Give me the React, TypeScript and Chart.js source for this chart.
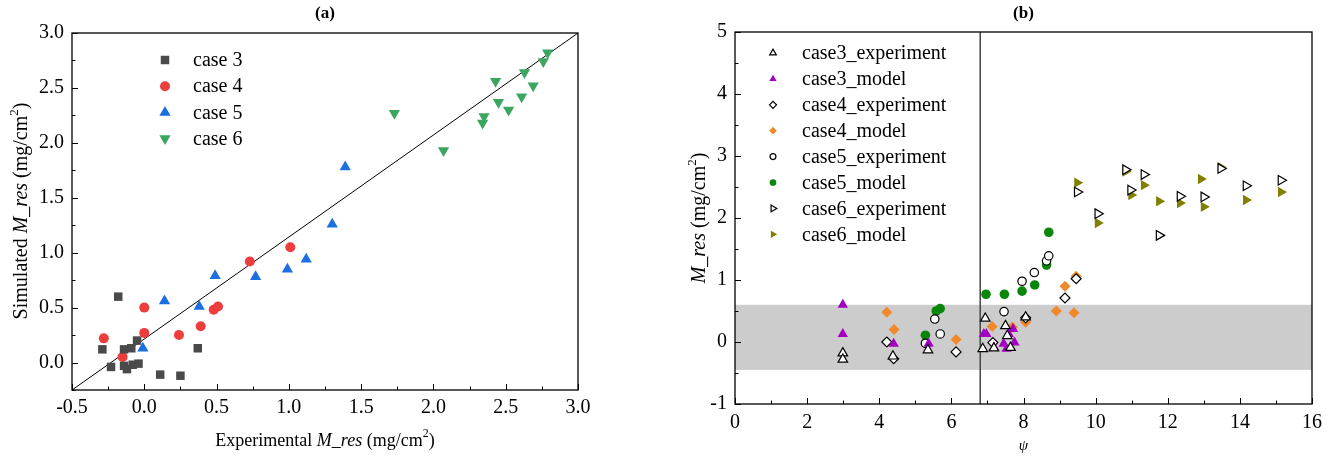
import React, { useEffect, useRef } from "react";
import { Chart, registerables } from "chart.js";
import { drawPoint } from "chart.js/helpers";
Chart.register(...registerables);

const SERIF = '"Liberation Serif", "Times New Roman", serif';

// ---------- (a) data ----------
const A_CASE3_X = [-0.18, -0.29, -0.23, -0.14, -0.09, -0.05, -0.14, -0.12, -0.08, -0.04, 0.11, 0.25, 0.37];
const A_CASE3_Y = [0.6, 0.12, -0.04, 0.12, 0.13, 0.2, -0.03, -0.06, -0.02, -0.01, -0.11, -0.12, 0.13];
const A_CASE4_X = [-0.28, -0.15, 0.0, 0.0, 0.24, 0.39, 0.48, 0.51, 0.73, 1.01];
const A_CASE4_Y = [0.22, 0.05, 0.5, 0.27, 0.25, 0.33, 0.48, 0.51, 0.92, 1.05];
const A_CASE5_X = [-0.01, 0.14, 0.38, 0.49, 0.77, 0.99, 1.12, 1.3, 1.39];
const A_CASE5_Y = [0.13, 0.56, 0.51, 0.79, 0.78, 0.85, 0.94, 1.26, 1.78];
const A_CASE6_X = [1.73, 2.07, 2.34, 2.35, 2.43, 2.45, 2.52, 2.61, 2.63, 2.69, 2.76, 2.79];
const A_CASE6_Y = [2.27, 1.93, 2.18, 2.24, 2.56, 2.37, 2.3, 2.42, 2.64, 2.52, 2.74, 2.82];
const A_DIAG_X = [-0.5, 3.0];
const A_DIAG_Y = [-0.25, 3.0];

// ---------- (b) data ----------
const B_C3E_X = [2.99, 2.99, 4.38, 5.35, 6.87, 6.94, 7.18, 7.5, 7.55, 7.64, 8.06];
const B_C3E_Y = [-0.18, -0.28, -0.23, -0.13, -0.11, 0.38, -0.1, 0.26, 0.1, -0.09, 0.4];
const B_C3M_X = [2.99, 2.99, 4.4, 5.37, 6.9, 6.97, 7.18, 7.45, 7.53, 7.59, 7.71, 7.75];
const B_C3M_Y = [0.6, 0.13, -0.03, -0.03, 0.13, 0.13, -0.09, -0.03, -0.11, 0.13, 0.21, -0.01];
const B_C4E_X = [4.21, 4.4, 6.13, 7.15, 8.06, 9.15, 9.46];
const B_C4E_Y = [0.0, -0.27, -0.16, -0.01, 0.39, 0.71, 1.02];
const B_C4M_X = [4.21, 4.41, 6.13, 7.13, 7.69, 8.06, 8.91, 9.15, 9.4, 9.46];
const B_C4M_Y = [0.48, 0.2, 0.04, 0.25, 0.24, 0.32, 0.5, 0.9, 0.47, 1.06];
const B_C5E_X = [5.28, 5.54, 5.69, 7.46, 7.96, 8.3, 8.64, 8.7];
const B_C5E_Y = [-0.02, 0.37, 0.13, 0.49, 0.98, 1.12, 1.31, 1.39];
const B_C5M_X = [5.28, 5.58, 5.69, 6.96, 7.47, 7.96, 8.31, 8.64, 8.7];
const B_C5M_Y = [0.11, 0.5, 0.54, 0.77, 0.77, 0.82, 0.92, 1.24, 1.77];
const B_C6E_X = [9.49, 10.06, 10.83, 10.97, 11.34, 11.76, 12.34, 13.0, 13.47, 14.17, 15.14];
const B_C6E_Y = [2.42, 2.07, 2.78, 2.45, 2.7, 1.72, 2.35, 2.34, 2.8, 2.52, 2.61];
const B_C6M_X = [9.49, 10.06, 10.83, 10.99, 11.34, 11.76, 12.34, 12.92, 13.0, 13.47, 14.17, 15.14];
const B_C6M_Y = [2.57, 1.92, 2.75, 2.37, 2.53, 2.27, 2.24, 2.63, 2.18, 2.82, 2.29, 2.42];
const B_BAND = [-0.45, 0.6];
const B_PSI_LINE = 6.8;

const A_LABELS = ["case 3", "case 4", "case 5", "case 6"];
const B_LABELS = [
  "case3_experiment", "case3_model", "case4_experiment", "case4_model",
  "case5_experiment", "case5_model", "case6_experiment", "case6_model",
];

const pts = (xs: number[], ys: number[]) => xs.map((x, i) => ({ x, y: ys[i] }));

type Seg = { t: string; it?: boolean; sup?: boolean; bold?: boolean };

function drawRich(ctx: CanvasRenderingContext2D, segs: Seg[], cx: number, cy: number, size: number, rot = 0) {
  ctx.save();
  ctx.translate(cx, cy);
  if (rot) ctx.rotate(rot);
  const font = (s: Seg) =>
    `${s.it ? "italic " : ""}${s.bold ? "bold " : ""}${s.sup ? Math.round(size * 0.65) : size}px ${SERIF}`;
  let total = 0;
  const widths = segs.map((s) => {
    ctx.font = font(s);
    const w = ctx.measureText(s.t).width;
    total += w;
    return w;
  });
  let x = -total / 2;
  ctx.textBaseline = "middle";
  ctx.textAlign = "left";
  ctx.fillStyle = "#000";
  segs.forEach((s, i) => {
    ctx.font = font(s);
    ctx.fillText(s.t, x, s.sup ? -size * 0.38 : 0);
    x += widths[i];
  });
  ctx.restore();
}

type Deco = {
  xMinor: number; xMajor: number; yMinor: number; yMajor: number;
  band?: number[]; vline?: number;
  title: Seg[]; titleY: number;
  xTitle: Seg[]; xTitleY: number; xTitleSize: number;
  yTitle: Seg[]; yTitleX: number; yTitleY: number;
  legend: { x: number; y: number; dy: number; textX: number; size: number; markerScale: number };
};

function decoPlugin(d: Deco) {
  return {
    id: "deco",
    beforeDatasetsDraw(chart: any) {
      const { ctx, chartArea: a, scales } = chart;
      ctx.save();
      if (d.band) {
        const y1 = scales.y.getPixelForValue(d.band[1]);
        const y0 = scales.y.getPixelForValue(d.band[0]);
        ctx.fillStyle = "#cccccc";
        ctx.fillRect(a.left, y1, a.right - a.left, y0 - y1);
      }
      if (d.vline !== undefined) {
        const px = scales.x.getPixelForValue(d.vline);
        ctx.strokeStyle = "#444";
        ctx.lineWidth = 1.5;
        ctx.beginPath();
        ctx.moveTo(px, a.top);
        ctx.lineTo(px, a.bottom);
        ctx.stroke();
      }
      ctx.restore();
    },
    afterDraw(chart: any) {
      const { ctx, chartArea: a, scales } = chart;
      ctx.save();
      ctx.strokeStyle = "#000";
      ctx.lineWidth = 1.3;
      ctx.strokeRect(a.left, a.top, a.right - a.left, a.bottom - a.top);
      // inward ticks
      ctx.lineWidth = 1;
      const xs = scales.x;
      const nx = Math.round((xs.max - xs.min) / d.xMinor);
      for (let k = 0; k <= nx; k++) {
        const v = xs.min + k * d.xMinor;
        const px = Math.round(xs.getPixelForValue(v)) + 0.5;
        const major = Math.abs(v / d.xMajor - Math.round(v / d.xMajor)) < 1e-6;
        const len = major ? 6 : 3.5;
        ctx.beginPath();
        ctx.moveTo(px, a.bottom);
        ctx.lineTo(px, a.bottom - len);
        ctx.stroke();
      }
      const ys = scales.y;
      const ny = Math.round((ys.max - ys.min) / d.yMinor);
      for (let k = 0; k <= ny; k++) {
        const v = ys.min + k * d.yMinor;
        const py = Math.round(ys.getPixelForValue(v)) + 0.5;
        const major = Math.abs(v / d.yMajor - Math.round(v / d.yMajor)) < 1e-6;
        const len = major ? 6 : 3.5;
        ctx.beginPath();
        ctx.moveTo(a.left, py);
        ctx.lineTo(a.left + len, py);
        ctx.stroke();
      }
      // titles
      const cx = (a.left + a.right) / 2;
      drawRich(ctx, d.title, cx, d.titleY, 17);
      drawRich(ctx, d.xTitle, cx, d.xTitleY, d.xTitleSize);
      drawRich(ctx, d.yTitle, d.yTitleX, d.yTitleY, 20, -Math.PI / 2);
      // legend
      const L = d.legend;
      let row = 0;
      chart.data.datasets.forEach((ds: any) => {
        if (!ds.label) return;
        const y = L.y + row * L.dy;
        ctx.fillStyle = ds.backgroundColor;
        ctx.strokeStyle = ds.borderColor;
        ctx.lineWidth = ds.borderWidth || 0;
        drawPoint(ctx, {
          pointStyle: ds.pointStyle,
          radius: ds.pointRadius * L.markerScale,
          rotation: ds.rotation || 0,
          borderWidth: ds.borderWidth || 0,
        } as any, L.x, y);
        ctx.fillStyle = "#000";
        ctx.font = `${L.size}px ${SERIF}`;
        ctx.textAlign = "left";
        ctx.textBaseline = "middle";
        ctx.fillText(ds.label, L.textX, y + 1);
        row++;
      });
      ctx.restore();
    },
  };
}

const tickFont = { family: SERIF, size: 20 };

function ds(label: string, data: any[], style: string, fill: string, stroke: string, bw: number, r: number, rot = 0) {
  return {
    label,
    data,
    pointStyle: style,
    backgroundColor: fill,
    borderColor: stroke,
    borderWidth: bw,
    pointRadius: r,
    pointHoverRadius: r,
    rotation: rot,
    pointRotation: rot,
    showLine: false,
  };
}

function ChartA() {
  const ref = useRef<HTMLCanvasElement>(null);
  useEffect(() => {
    const deco: Deco = {
      xMinor: 0.25, xMajor: 0.5, yMinor: 0.25, yMajor: 0.5,
      title: [{ t: "(a)", bold: true }], titleY: 14,
      xTitle: [{ t: "Experimental " }, { t: "M_res", it: true }, { t: " (mg/cm" }, { t: "2", sup: true }, { t: ")" }],
      xTitleY: 441, xTitleSize: 18,
      yTitle: [{ t: "Simulated " }, { t: "M_res", it: true }, { t: " (mg/cm" }, { t: "2", sup: true }, { t: ")" }],
      yTitleX: 22, yTitleY: 211,
      legend: { x: 165, y: 60, dy: 26.2, textX: 193, size: 20, markerScale: 1 },
    };
    const chart = new Chart(ref.current!, {
      type: "scatter",
      data: {
        datasets: [
          ds(A_LABELS[0], pts(A_CASE3_X, A_CASE3_Y), "rect", "#4a4a4a", "#4a4a4a", 0, 6),
          ds(A_LABELS[1], pts(A_CASE4_X, A_CASE4_Y), "circle", "#ee3d3d", "#ee3d3d", 0, 5),
          ds(A_LABELS[2], pts(A_CASE5_X, A_CASE5_Y), "triangle", "#1c6fdf", "#1c6fdf", 0, 6.5),
          ds(A_LABELS[3], pts(A_CASE6_X, A_CASE6_Y), "triangle", "#3aa660", "#3aa660", 0, 6.5, 180),
          {
            label: "",
            data: pts(A_DIAG_X, A_DIAG_Y),
            showLine: true,
            borderColor: "#000",
            borderWidth: 1,
            pointRadius: 0,
            backgroundColor: "#000",
          } as any,
        ],
      },
      options: {
        animation: false,
        responsive: false,
        events: [],
        layout: { padding: { top: 33, right: 82, left: 0, bottom: 0 } },
        plugins: { legend: { display: false }, tooltip: { enabled: false } },
        scales: {
          x: {
            type: "linear", min: -0.5, max: 3,
            ticks: { stepSize: 0.5, font: tickFont, color: "#000", padding: 6, callback: (v: any) => Number(v).toFixed(1) },
            grid: { display: false, drawTicks: false },
            border: { display: false },
            afterFit: (s: any) => { s.height = 68; },
          },
          y: {
            type: "linear", min: -0.25, max: 3,
            ticks: {
              stepSize: 0.5, font: tickFont, color: "#000", padding: 8,
              callback: (v: any) => (Math.abs(v * 2 - Math.round(v * 2)) < 1e-6 ? Number(v).toFixed(1) : ""),
            },
            grid: { display: false, drawTicks: false },
            border: { display: false },
            afterFit: (s: any) => { s.width = 72; },
          },
        },
      } as any,
      plugins: [decoPlugin(deco)],
    });
    return () => chart.destroy();
  }, []);
  return <canvas ref={ref} width={660} height={458} style={{ display: "block" }} />;
}

function ChartB() {
  const ref = useRef<HTMLCanvasElement>(null);
  useEffect(() => {
    const deco: Deco = {
      xMinor: 1, xMajor: 2, yMinor: 0.5, yMajor: 1,
      band: B_BAND, vline: B_PSI_LINE,
      title: [{ t: "(b)", bold: true }], titleY: 14,
      xTitle: [{ t: "\u03c8", it: true }], xTitleY: 446, xTitleSize: 15,
      yTitle: [{ t: "M_res", it: true }, { t: " (mg/cm" }, { t: "2", sup: true }, { t: ")" }],
      yTitleX: 40, yTitleY: 218,
      legend: { x: 113, y: 53, dy: 25.9, textX: 142, size: 20, markerScale: 0.7 },
    };
    const open = "#ffffff";
    const chart = new Chart(ref.current!, {
      type: "scatter",
      data: {
        datasets: [
          ds(B_LABELS[0], pts(B_C3E_X, B_C3E_Y), "triangle", open, "#000", 1.2, 5.5),
          ds(B_LABELS[1], pts(B_C3M_X, B_C3M_Y), "triangle", "#a300c2", "#a300c2", 0, 6),
          ds(B_LABELS[2], pts(B_C4E_X, B_C4E_Y), "rectRot", open, "#000", 1.2, 5),
          ds(B_LABELS[3], pts(B_C4M_X, B_C4M_Y), "rectRot", "#f0882c", "#f0882c", 0, 5.5),
          ds(B_LABELS[4], pts(B_C5E_X, B_C5E_Y), "circle", open, "#000", 1.2, 4.2),
          ds(B_LABELS[5], pts(B_C5M_X, B_C5M_Y), "circle", "#0a860a", "#0a860a", 0, 4.8),
          ds(B_LABELS[6], pts(B_C6E_X, B_C6E_Y), "triangle", open, "#000", 1.2, 5.5, 90),
          ds(B_LABELS[7], pts(B_C6M_X, B_C6M_Y), "triangle", "#808000", "#808000", 0, 6, 90),
        ],
      },
      options: {
        animation: false,
        responsive: false,
        events: [],
        layout: { padding: { top: 32, right: 21, left: 0, bottom: 0 } },
        plugins: { legend: { display: false }, tooltip: { enabled: false } },
        scales: {
          x: {
            type: "linear", min: 0, max: 16,
            ticks: { stepSize: 2, font: tickFont, color: "#000", padding: 7 },
            grid: { display: false, drawTicks: false },
            border: { display: false },
            afterFit: (s: any) => { s.height = 54; },
          },
          y: {
            type: "linear", min: -1, max: 5,
            ticks: { stepSize: 1, font: tickFont, color: "#000", padding: 8 },
            grid: { display: false, drawTicks: false },
            border: { display: false },
            afterFit: (s: any) => { s.width = 75; },
          },
        },
      } as any,
      plugins: [decoPlugin(deco)],
    });
    return () => chart.destroy();
  }, []);
  return <canvas ref={ref} width={673} height={458} style={{ display: "block" }} />;
}

export default function App() {
  return (
    <div style={{ position: "absolute", left: 0, top: 0, width: 1333, height: 458, background: "#fff" }}>
      <div style={{ position: "absolute", left: 0, top: 0, width: 660, height: 458 }}>
        <ChartA />
      </div>
      <div style={{ position: "absolute", left: 660, top: 0, width: 673, height: 458 }}>
        <ChartB />
      </div>
    </div>
  );
}
